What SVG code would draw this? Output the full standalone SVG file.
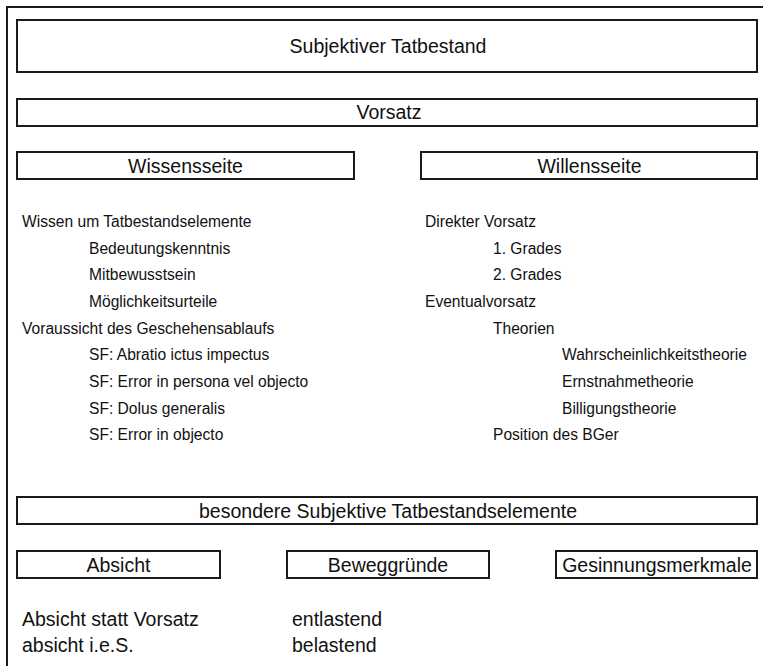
<svg xmlns="http://www.w3.org/2000/svg" width="763" height="666" viewBox="0 0 763 666">
<style>
.box{fill:#fff;stroke:#1a1a1a;stroke-width:2}
.frame{fill:none;stroke:#1a1a1a;stroke-width:2}
text{font-family:"Liberation Sans",Arial,sans-serif;fill:#111}
.h{font-size:19.5px;text-anchor:middle}
.l{font-size:15.6px}
.b{font-size:19.5px}
</style>
<rect width="763" height="666" fill="#fff"/>
<path class="frame" d="M763,7 H7 V666"/>
<g id="subjektiver-tatbestand"><rect class="box" x="17" y="20" width="740" height="52"/><text class="h" x="388" y="53">Subjektiver Tatbestand</text></g>
<g id="vorsatz"><rect class="box" x="17" y="99" width="740" height="27"/><text class="h" x="389" y="119">Vorsatz</text></g>
<g id="wissensseite"><rect class="box" x="17" y="152" width="337" height="27"/><text class="h" x="185.5" y="173">Wissensseite</text></g>
<g id="willensseite"><rect class="box" x="421" y="152" width="336" height="27"/><text class="h" x="589.5" y="173">Willensseite</text></g>
<g id="wissen-liste">
<text class="l" x="22" y="227">Wissen um Tatbestandselemente</text>
<text class="l" x="89" y="253.5">Bedeutungskenntnis</text>
<text class="l" x="89" y="280">Mitbewusstsein</text>
<text class="l" x="89" y="307">Möglichkeitsurteile</text>
<text class="l" x="22" y="333.5">Voraussicht des Geschehensablaufs</text>
<text class="l" x="89" y="360">SF: Abratio ictus impectus</text>
<text class="l" x="89" y="387">SF: Error in persona vel objecto</text>
<text class="l" x="89" y="413.5">SF: Dolus generalis</text>
<text class="l" x="89" y="440">SF: Error in objecto</text>
</g>
<g id="willen-liste">
<text class="l" x="425" y="227">Direkter Vorsatz</text>
<text class="l" x="493" y="253.5">1. Grades</text>
<text class="l" x="493" y="280">2. Grades</text>
<text class="l" x="425" y="307">Eventualvorsatz</text>
<text class="l" x="493" y="333.5">Theorien</text>
<text class="l" x="562" y="360">Wahrscheinlichkeitstheorie</text>
<text class="l" x="562" y="387">Ernstnahmetheorie</text>
<text class="l" x="562" y="413.5">Billigungstheorie</text>
<text class="l" x="493" y="440">Position des BGer</text>
</g>
<g id="besondere"><rect class="box" x="17" y="497" width="740" height="27"/><text class="h" x="388" y="518">besondere Subjektive Tatbestandselemente</text></g>
<g id="absicht"><rect class="box" x="17" y="551" width="203" height="27"/><text class="h" x="118.5" y="572">Absicht</text></g>
<g id="beweggruende"><rect class="box" x="287" y="551" width="202" height="27"/><text class="h" x="388" y="572">Beweggründe</text></g>
<g id="gesinnungsmerkmale"><rect class="box" x="556" y="551" width="201" height="27"/><text class="h" x="657" y="572">Gesinnungsmerkmale</text></g>
<g id="absicht-liste">
<text class="b" x="22" y="626">Absicht statt Vorsatz</text>
<text class="b" x="22" y="652">absicht i.e.S.</text>
</g>
<g id="beweggruende-liste">
<text class="b" x="292" y="626">entlastend</text>
<text class="b" x="292" y="652">belastend</text>
</g>
</svg>
